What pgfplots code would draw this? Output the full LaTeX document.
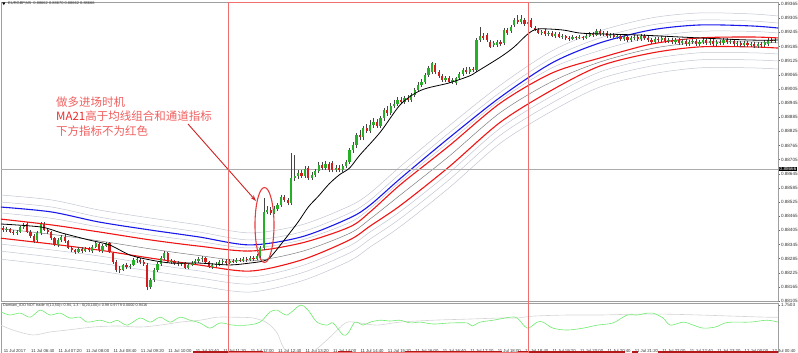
\documentclass[border=0pt]{standalone}
\usepackage{fontspec}
\setmainfont{Liberation Sans}
\newfontfamily\cjk{Noto Sans CJK SC}
\usepackage{pgfplots}
\pgfplotsset{compat=1.18}
\usepackage{pgfplotstable}
\usetikzlibrary{arrows.meta}

\definecolor{bull}{RGB}{40,175,40}
\definecolor{bear}{RGB}{210,30,30}
\definecolor{wick}{RGB}{70,70,70}
\definecolor{band}{RGB}{195,198,210}
\definecolor{midg}{RGB}{125,125,125}
\definecolor{bl}{RGB}{25,25,235}
\definecolor{rd}{RGB}{240,20,20}
\definecolor{note}{RGB}{240,95,95}
\definecolor{notedk}{RGB}{232,45,45}
\definecolor{frm}{RGB}{240,110,110}
\definecolor{ell}{RGB}{232,60,60}
\definecolor{arr}{RGB}{205,35,35}
\definecolor{indg}{RGB}{110,235,110}
\definecolor{indgray}{RGB}{212,212,212}
\definecolor{nt}{RGB}{180,25,25}

% wicks: t high low
\pgfplotstableread{
t h l
-1 0.88423 0.88402
0 0.88423 0.88398
1 0.88419 0.88398
2 0.88415 0.88394
3 0.88406 0.88385
4 0.88406 0.88385
5 0.88423 0.88394
6 0.88436 0.88410
7 0.88440 0.88394
8 0.88406 0.88372
9 0.88389 0.88351
10 0.88402 0.88355
11 0.88440 0.88385
12 0.88440 0.88402
13 0.88415 0.88389
14 0.88402 0.88364
15 0.88377 0.88338
16 0.88372 0.88334
17 0.88385 0.88355
18 0.88389 0.88351
19 0.88364 0.88326
20 0.88338 0.88313
21 0.88326 0.88304
22 0.88334 0.88309
23 0.88334 0.88309
24 0.88334 0.88313
25 0.88334 0.88313
26 0.88343 0.88309
27 0.88360 0.88330
28 0.88351 0.88313
29 0.88347 0.88309
30 0.88355 0.88334
31 0.88355 0.88309
32 0.88313 0.88262
33 0.88279 0.88228
34 0.88253 0.88224
35 0.88262 0.88232
36 0.88266 0.88241
37 0.88262 0.88241
38 0.88287 0.88253
39 0.88292 0.88266
40 0.88287 0.88262
41 0.88279 0.88253
42 0.88266 0.88152
43 0.88203 0.88156
44 0.88245 0.88186
45 0.88270 0.88228
46 0.88296 0.88253
47 0.88317 0.88279
48 0.88313 0.88266
49 0.88283 0.88262
50 0.88279 0.88258
51 0.88275 0.88253
52 0.88270 0.88253
53 0.88270 0.88241
54 0.88266 0.88241
55 0.88275 0.88253
56 0.88283 0.88262
57 0.88292 0.88266
58 0.88296 0.88270
59 0.88292 0.88266
60 0.88275 0.88245
61 0.88266 0.88241
62 0.88270 0.88249
63 0.88279 0.88253
64 0.88283 0.88262
65 0.88283 0.88258
66 0.88283 0.88262
67 0.88283 0.88266
68 0.88287 0.88266
69 0.88287 0.88270
70 0.88292 0.88270
71 0.88292 0.88270
72 0.88296 0.88275
73 0.88296 0.88275
74 0.88304 0.88279
75 0.88338 0.88287
76 0.88542 0.88321
77 0.88508 0.88474
78 0.88504 0.88470
79 0.88508 0.88474
80 0.88521 0.88487
81 0.88555 0.88504
82 0.88555 0.88525
83 0.88542 0.88512
84 0.88733 0.88512
85 0.88724 0.88614
86 0.88661 0.88623
87 0.88661 0.88627
88 0.88678 0.88627
89 0.88678 0.88618
90 0.88652 0.88618
91 0.88665 0.88631
92 0.88695 0.88648
93 0.88695 0.88661
94 0.88699 0.88661
95 0.88695 0.88652
96 0.88699 0.88652
97 0.88682 0.88652
98 0.88682 0.88652
99 0.88686 0.88652
100 0.88703 0.88669
101 0.88754 0.88686
102 0.88780 0.88733
103 0.88818 0.88754
104 0.88830 0.88788
105 0.88847 0.88788
106 0.88856 0.88818
107 0.88873 0.88818
108 0.88881 0.88839
109 0.88877 0.88839
110 0.88890 0.88839
111 0.88924 0.88869
112 0.88932 0.88890
113 0.88945 0.88894
114 0.88958 0.88924
115 0.88970 0.88932
116 0.88970 0.88941
117 0.88975 0.88941
118 0.88979 0.88949
119 0.88987 0.88949
120 0.89009 0.88970
121 0.89034 0.88992
122 0.89047 0.89013
123 0.89072 0.89026
124 0.89102 0.89055
125 0.89119 0.89068
126 0.89115 0.89068
127 0.89085 0.89051
128 0.89068 0.89034
129 0.89060 0.89034
130 0.89060 0.89030
131 0.89051 0.89026
132 0.89055 0.89021
133 0.89077 0.89043
134 0.89093 0.89060
135 0.89098 0.89068
136 0.89098 0.89068
137 0.89098 0.89077
138 0.89221 0.89077
139 0.89267 0.89204
140 0.89242 0.89212
141 0.89242 0.89204
142 0.89212 0.89178
143 0.89208 0.89183
144 0.89212 0.89183
145 0.89212 0.89187
146 0.89263 0.89191
147 0.89263 0.89233
148 0.89276 0.89242
149 0.89306 0.89267
150 0.89318 0.89280
151 0.89318 0.89280
152 0.89306 0.89272
153 0.89301 0.89272
154 0.89306 0.89263
155 0.89272 0.89250
156 0.89263 0.89238
157 0.89255 0.89233
158 0.89259 0.89229
159 0.89250 0.89229
160 0.89250 0.89225
161 0.89246 0.89221
162 0.89246 0.89221
163 0.89238 0.89216
164 0.89233 0.89212
165 0.89229 0.89208
166 0.89233 0.89212
167 0.89229 0.89212
168 0.89233 0.89216
169 0.89229 0.89212
170 0.89238 0.89216
171 0.89246 0.89225
172 0.89246 0.89225
173 0.89259 0.89229
174 0.89259 0.89229
175 0.89250 0.89229
176 0.89250 0.89221
177 0.89242 0.89221
178 0.89242 0.89216
179 0.89238 0.89216
180 0.89233 0.89208
181 0.89233 0.89208
182 0.89233 0.89204
183 0.89229 0.89204
184 0.89233 0.89212
185 0.89233 0.89208
186 0.89238 0.89208
187 0.89238 0.89212
188 0.89229 0.89204
189 0.89221 0.89195
190 0.89225 0.89195
191 0.89225 0.89204
192 0.89229 0.89204
193 0.89229 0.89200
194 0.89221 0.89200
195 0.89221 0.89195
196 0.89221 0.89195
197 0.89221 0.89191
198 0.89216 0.89191
199 0.89216 0.89187
200 0.89212 0.89187
201 0.89216 0.89195
202 0.89216 0.89187
203 0.89212 0.89187
204 0.89221 0.89195
205 0.89221 0.89191
206 0.89216 0.89191
207 0.89216 0.89187
208 0.89212 0.89187
209 0.89212 0.89191
210 0.89221 0.89191
211 0.89221 0.89195
212 0.89216 0.89195
213 0.89216 0.89187
214 0.89208 0.89187
215 0.89208 0.89183
216 0.89208 0.89183
217 0.89208 0.89183
218 0.89204 0.89183
219 0.89204 0.89178
220 0.89204 0.89178
221 0.89204 0.89183
222 0.89212 0.89183
223 0.89221 0.89187
224 0.89221 0.89200
225 0.89221 0.89200
}\wicks

% rising candles: t open close
\pgfplotstableread{
t o c
-1 0.88410 0.88415
1 0.88406 0.88410
4 0.88394 0.88398
5 0.88398 0.88419
6 0.88419 0.88428
10 0.88364 0.88394
11 0.88394 0.88432
16 0.88343 0.88364
17 0.88364 0.88377
22 0.88313 0.88326
24 0.88317 0.88326
26 0.88317 0.88334
27 0.88334 0.88351
29 0.88317 0.88338
30 0.88338 0.88351
35 0.88236 0.88258
37 0.88249 0.88253
38 0.88258 0.88279
39 0.88279 0.88283
43 0.88164 0.88194
44 0.88194 0.88236
45 0.88236 0.88262
46 0.88262 0.88287
47 0.88287 0.88309
49 0.88270 0.88275
52 0.88262 0.88266
54 0.88245 0.88258
55 0.88258 0.88266
56 0.88266 0.88275
57 0.88275 0.88283
58 0.88283 0.88287
61 0.88249 0.88258
62 0.88258 0.88262
63 0.88262 0.88270
64 0.88270 0.88275
66 0.88266 0.88275
68 0.88270 0.88279
70 0.88275 0.88283
72 0.88279 0.88287
74 0.88283 0.88296
75 0.88296 0.88330
76 0.88330 0.88483
77 0.88483 0.88491
79 0.88478 0.88495
80 0.88495 0.88512
81 0.88512 0.88546
84 0.88521 0.88627
85 0.88627 0.88635
86 0.88635 0.88648
88 0.88635 0.88665
90 0.88627 0.88640
91 0.88640 0.88657
92 0.88657 0.88682
94 0.88669 0.88686
97 0.88661 0.88669
99 0.88661 0.88678
100 0.88678 0.88695
101 0.88695 0.88746
102 0.88746 0.88767
103 0.88767 0.88809
105 0.88801 0.88839
107 0.88826 0.88852
108 0.88852 0.88864
110 0.88847 0.88881
111 0.88881 0.88915
113 0.88903 0.88932
114 0.88932 0.88941
115 0.88941 0.88958
117 0.88949 0.88966
119 0.88958 0.88979
120 0.88979 0.89000
121 0.89000 0.89021
122 0.89021 0.89034
123 0.89034 0.89064
124 0.89064 0.89093
125 0.89077 0.89115
129 0.89043 0.89051
131 0.89034 0.89043
132 0.89030 0.89051
133 0.89051 0.89068
134 0.89068 0.89085
136 0.89077 0.89089
138 0.89085 0.89212
139 0.89212 0.89229
143 0.89191 0.89200
144 0.89191 0.89204
146 0.89200 0.89255
148 0.89250 0.89267
149 0.89276 0.89297
151 0.89289 0.89301
153 0.89280 0.89289
157 0.89242 0.89246
159 0.89238 0.89242
161 0.89229 0.89238
163 0.89225 0.89229
166 0.89216 0.89225
168 0.89221 0.89225
170 0.89221 0.89229
171 0.89229 0.89238
173 0.89233 0.89250
175 0.89238 0.89242
177 0.89229 0.89233
179 0.89225 0.89229
181 0.89216 0.89225
183 0.89212 0.89221
184 0.89221 0.89225
186 0.89216 0.89229
190 0.89204 0.89216
192 0.89212 0.89221
194 0.89208 0.89212
196 0.89204 0.89212
198 0.89200 0.89208
200 0.89195 0.89204
201 0.89204 0.89208
203 0.89195 0.89204
204 0.89204 0.89212
206 0.89200 0.89208
208 0.89195 0.89204
210 0.89200 0.89212
212 0.89204 0.89208
214 0.89195 0.89200
216 0.89191 0.89200
218 0.89191 0.89195
220 0.89187 0.89195
222 0.89191 0.89204
223 0.89195 0.89212
225 0.89208 0.89212
}\bulls

% falling candles: t open close
\pgfplotstableread{
t o c
0 0.88415 0.88406
2 0.88410 0.88398
3 0.88398 0.88394
7 0.88432 0.88398
8 0.88398 0.88381
9 0.88381 0.88355
12 0.88432 0.88406
13 0.88406 0.88398
14 0.88398 0.88372
15 0.88372 0.88343
18 0.88377 0.88360
19 0.88360 0.88330
20 0.88330 0.88321
21 0.88321 0.88313
23 0.88326 0.88317
25 0.88326 0.88321
28 0.88347 0.88321
31 0.88351 0.88313
32 0.88309 0.88270
33 0.88270 0.88236
34 0.88241 0.88236
36 0.88258 0.88249
40 0.88279 0.88270
41 0.88270 0.88262
42 0.88258 0.88164
48 0.88309 0.88270
50 0.88275 0.88266
51 0.88266 0.88262
53 0.88266 0.88245
59 0.88287 0.88270
60 0.88270 0.88249
65 0.88275 0.88266
67 0.88275 0.88270
69 0.88279 0.88275
71 0.88283 0.88279
73 0.88287 0.88283
78 0.88491 0.88478
82 0.88546 0.88534
83 0.88534 0.88521
87 0.88648 0.88635
89 0.88669 0.88627
93 0.88682 0.88669
95 0.88686 0.88661
96 0.88690 0.88661
98 0.88669 0.88661
104 0.88809 0.88801
106 0.88839 0.88826
109 0.88864 0.88847
112 0.88915 0.88903
116 0.88958 0.88949
118 0.88966 0.88958
126 0.89106 0.89077
127 0.89077 0.89060
128 0.89060 0.89043
130 0.89051 0.89034
135 0.89085 0.89077
137 0.89089 0.89085
140 0.89229 0.89221
141 0.89233 0.89212
142 0.89204 0.89183
145 0.89204 0.89195
147 0.89255 0.89242
150 0.89297 0.89289
152 0.89297 0.89280
154 0.89297 0.89267
155 0.89263 0.89255
156 0.89255 0.89242
158 0.89250 0.89238
160 0.89242 0.89229
162 0.89238 0.89225
164 0.89229 0.89221
165 0.89221 0.89216
167 0.89225 0.89221
169 0.89225 0.89221
172 0.89238 0.89233
174 0.89250 0.89238
176 0.89242 0.89229
178 0.89233 0.89225
180 0.89229 0.89216
182 0.89225 0.89212
185 0.89225 0.89216
187 0.89229 0.89221
188 0.89221 0.89212
189 0.89212 0.89204
191 0.89216 0.89212
193 0.89221 0.89208
195 0.89212 0.89204
197 0.89212 0.89200
199 0.89208 0.89195
202 0.89208 0.89195
205 0.89212 0.89200
207 0.89208 0.89195
209 0.89204 0.89200
211 0.89212 0.89204
213 0.89208 0.89195
215 0.89200 0.89191
217 0.89200 0.89191
219 0.89195 0.89187
221 0.89195 0.89191
224 0.89212 0.89208
}\bears

% moving averages and channel
\pgfplotstableread{
t blue u1 u2 m r1 c r2 l1 l2 l3
-1 0.88504 0.88525 0.88555 0.88479 0.88453 0.88413 0.88372 0.88347 0.88317 0.88283
14 0.88483 0.88504 0.88534 0.88456 0.88428 0.88388 0.88347 0.88322 0.88292 0.88258
28 0.88440 0.88461 0.88491 0.88419 0.88398 0.88360 0.88321 0.88296 0.88266 0.88232
43 0.88406 0.88427 0.88457 0.88385 0.88364 0.88326 0.88287 0.88262 0.88232 0.88198
57 0.88377 0.88398 0.88428 0.88358 0.88338 0.88298 0.88258 0.88233 0.88203 0.88169
72 0.88343 0.88364 0.88394 0.88330 0.88317 0.88275 0.88232 0.88207 0.88177 0.88143
87 0.88377 0.88398 0.88428 0.88364 0.88351 0.88315 0.88279 0.88254 0.88224 0.88190
101 0.88457 0.88478 0.88508 0.88438 0.88419 0.88392 0.88364 0.88339 0.88309 0.88275
107 0.88512 0.88533 0.88563 0.88498 0.88483 0.88453 0.88423 0.88398 0.88368 0.88334
116 0.88627 0.88648 0.88678 0.88614 0.88601 0.88557 0.88512 0.88487 0.88457 0.88423
130 0.88797 0.88818 0.88848 0.88780 0.88763 0.88719 0.88674 0.88649 0.88619 0.88585
145 0.88970 0.88991 0.89021 0.88958 0.88945 0.88905 0.88864 0.88839 0.88809 0.88775
160 0.89115 0.89136 0.89166 0.89094 0.89072 0.89036 0.89000 0.88975 0.88945 0.88911
174 0.89200 0.89221 0.89251 0.89168 0.89136 0.89119 0.89102 0.89077 0.89047 0.89013
189 0.89255 0.89276 0.89306 0.89225 0.89195 0.89176 0.89157 0.89132 0.89102 0.89068
203 0.89276 0.89297 0.89327 0.89249 0.89221 0.89202 0.89183 0.89158 0.89128 0.89094
218 0.89272 0.89293 0.89323 0.89249 0.89225 0.89204 0.89183 0.89158 0.89128 0.89094
226 0.89263 0.89284 0.89314 0.89242 0.89221 0.89200 0.89178 0.89153 0.89123 0.89089
}\lines

\pgfplotstableread{
t v
-1 0.88432
11 0.88419
17 0.88394
25 0.88364
31 0.88343
37 0.88300
43 0.88279
49 0.88266
57 0.88266
66 0.88258
72 0.88266
76 0.88275
78 0.88292
82 0.88364
86 0.88440
89 0.88504
92 0.88551
95 0.88601
98 0.88640
101 0.88669
104 0.88724
110 0.88822
116 0.88941
122 0.89000
130 0.89030
136 0.89060
138 0.89077
145 0.89140
149 0.89183
153 0.89238
156 0.89259
163 0.89255
168 0.89242
174 0.89238
186 0.89233
203 0.89221
218 0.89212
226 0.89212
}\maline

\pgfplotstableread{
t v
-0.6 1.50
2 1.39
5 1.46
7.9 1.31
10.8 1.57
13.7 1.39
16.6 1.46
19.5 1.28
22.4 1.31
24.5 1.13
28.3 1.20
31.2 1.10
33.2 1.20
36.2 1.02
39.9 1.28
42.9 1.13
45.8 1.31
48.7 1.13
51.6 1.31
54.5 1.20
57.4 1.10
60.3 0.91
63.3 1.10
67 1.02
71.1 1.02
74.9 1.13
77.8 1.50
79.9 1.57
82.8 1.39
86.6 1.75
88.9 1.57
91.5 1.13
94.5 1.02
96.2 1.10
99.1 0.66
100.6 0.73
102.6 1.13
105 1.02
107 1.13
109.9 1.20
112.8 1.17
115.7 1.20
118.7 1.10
121.6 1.13
125.4 1.06
130.3 1.10
135.3 1.10
136.7 0.99
139.1 1.13
142.9 1.20
147.8 1.31
149.9 1.28
152.8 0.91
155.7 1.13
157.4 1.13
160.3 0.91
164.4 0.84
169.1 0.91
173.2 1.02
177.8 1.10
181.9 1.39
184.8 1.39
187.8 1.46
189.5 1.46
192.4 1.28
194.5 1.02
198.3 1.13
201.2 1.02
204.1 0.91
207.6 0.95
210.5 1.10
212.8 1.13
217.8 1.13
222.7 1.20
225.9 1.13
}\idogreen

\pgfplotstableread{
t v
-0.6 1.02
2.9 0.84
8.7 0.66
13.7 0.77
18.7 0.84
26.2 0.95
33.2 0.99
39.9 0.95
45.8 1.02
51.6 1.13
57.4 1.20
62.4 1.31
67 1.31
72.9 1.28
77 1.10
79.9 0.73
82 0.15
86.5 -0.3
91 0.1
95.3 0.58
97.4 0.84
100.3 1.13
104.1 1.10
109 1.02
115.7 1.13
125.4 1.20
135.3 1.24
144.9 1.28
149.9 1.28
154.5 1.35
164.4 1.39
174 1.39
183.7 1.42
193.6 1.42
203.2 1.39
212.8 1.35
222.7 1.31
225.9 1.31
}\idogray

\begin{document}
\begin{tikzpicture}[x=1pt,y=1pt]
\useasboundingbox (0,0) rectangle (798,353);

% ---------- main price window ----------
\begin{axis}[
  at={(1pt,52pt)}, anchor=south west, scale only axis,
  width=777pt, height=299pt,
  xmin=-0.6, xmax=225.9, ymin=0.88105, ymax=0.893735,
  axis line style={draw=gray!75, line width=0.5pt},
  xtick=\empty,
  ytick={0.88105,0.88165,0.88225,0.88285,0.88345,0.88405,0.88465,0.88525,0.88585,0.88645,0.88705,0.88765,0.88825,0.88885,0.88945,0.89005,0.89065,0.89125,0.89185,0.89245,0.89305,0.89365},
  yticklabels={0.88105,0.88165,0.88225,0.88285,0.88345,0.88405,0.88465,0.88525,0.88585,0.88645,0.88705,0.88765,0.88825,0.88885,0.88945,0.89005,0.89065,0.89125,0.89185,0.89245,0.89305,0.89365},
  ytick pos=right, yticklabel pos=right,
  tick align=outside, major tick length=2pt,
  tick style={draw=gray!80!black, line width=0.4pt},
  yticklabel style={font=\fontsize{4.6}{5}\selectfont, text=black!80, anchor=west, inner sep=0pt, xshift=0.8pt},
  scaled y ticks=false,
  /pgf/number format/assume math mode=true,
  clip=true,
]
% channel bands
\addplot[band, line width=0.5pt, smooth, tension=0.5] table[x=t, y=u2] {\lines};
\addplot[band, line width=0.5pt, smooth, tension=0.5] table[x=t, y=u1] {\lines};
\addplot[band, line width=0.5pt, smooth, tension=0.5] table[x=t, y=m] {\lines};
\addplot[band, line width=0.5pt, smooth, tension=0.5] table[x=t, y=l1] {\lines};
\addplot[band, line width=0.5pt, smooth, tension=0.5] table[x=t, y=l2] {\lines};
\addplot[band, line width=0.5pt, smooth, tension=0.5] table[x=t, y=l3] {\lines};
\addplot[midg, line width=0.5pt, smooth, tension=0.5] table[x=t, y=c] {\lines};
\addplot[rd, line width=1.1pt, smooth, tension=0.5] table[x=t, y=r1] {\lines};
\addplot[rd, line width=1.1pt, smooth, tension=0.5] table[x=t, y=r2] {\lines};
\addplot[bl, line width=1.1pt, smooth, tension=0.5] table[x=t, y=blue] {\lines};
% current price line
\addplot[gray!65, line width=0.4pt] coordinates {(-0.6,0.88666) (225.9,0.88666)};
% candles (error bars from low to high, and from open to close)
\addplot[draw=none, mark=none, error bars/.cd, y dir=plus, y explicit, error mark=none,
  error bar style={draw=wick, line width=0.45pt}]
  table[x=t, y=l, y error plus expr=\thisrow{h}-\thisrow{l}] {\wicks};
\addplot[draw=none, mark=none, error bars/.cd, y dir=plus, y explicit, error mark=none,
  error bar style={draw=bull, line width=2.2pt}]
  table[x=t, y=o, y error plus expr=\thisrow{c}-\thisrow{o}] {\bulls};
\addplot[draw=none, mark=none, error bars/.cd, y dir=plus, y explicit, error mark=none,
  error bar style={draw=bear, line width=2.2pt}]
  table[x=t, y=c, y error plus expr=\thisrow{o}-\thisrow{c}] {\bears};
% MA21
\addplot[black, line width=0.8pt, smooth, tension=0.5] table[x=t, y=v] {\maline};
\end{axis}

% ---------- indicator window ----------
\begin{axis}[
  at={(1pt,0pt)}, anchor=south west, scale only axis,
  width=777pt, height=50pt,
  xmin=-0.6, xmax=225.9, ymin=0, ymax=1.83,
  axis line style={draw=gray!75, line width=0.5pt},
  ytick={1.7503}, yticklabels={1.7503},
  ytick pos=right, yticklabel pos=right,
  tick align=outside, major tick length=2pt,
  ytick style={draw=gray!80!black, line width=0.4pt},
  yticklabel style={font=\fontsize{4.6}{5}\selectfont, text=black!80, anchor=west, inner sep=0pt, xshift=0.8pt},
  xtick={0,8,...,224},
  xticklabels={11 Jul 2017,11 Jul 06:40,11 Jul 07:20,11 Jul 08:00,11 Jul 08:40,11 Jul 09:20,11 Jul 10:00,11 Jul 10:40,11 Jul 11:20,11 Jul 12:00,11 Jul 12:40,11 Jul 13:20,11 Jul 14:00,11 Jul 14:40,11 Jul 15:20,11 Jul 16:00,11 Jul 16:40,11 Jul 17:20,11 Jul 18:00,11 Jul 18:40,11 Jul 19:20,11 Jul 20:00,11 Jul 20:40,11 Jul 21:20,11 Jul 22:00,11 Jul 22:40,11 Jul 23:20,12 Jul 00:00,12 Jul 00:40},
  xtick pos=bottom, xtick style={draw=none},
  xticklabel style={font=\fontsize{4.3}{5}\selectfont, text=black!80, anchor=south west, inner sep=0pt, xshift=0.5pt, yshift=2.6pt},
  /pgf/number format/assume math mode=true,
  clip=true,
]
\addplot[indgray, line width=0.6pt, smooth, tension=0.5] table[x=t, y=v] {\idogray};
\addplot[indg, line width=0.6pt, smooth, tension=0.5] table[x=t, y=v] {\idogreen};
\addplot[nt, line width=2.2pt] coordinates {(55.4,0.035) (75.8,0.035)};
\addplot[nt, line width=2.2pt] coordinates {(97.7,0.035) (101.7,0.035)};
\addplot[nt, line width=2.2pt] coordinates {(117.2,0.035) (145.5,0.035)};
\addplot[nt, line width=2.2pt] coordinates {(150.1,0.035) (181.3,0.035)};
\addplot[nt, line width=2.2pt] coordinates {(183.4,0.035) (185.1,0.035)};
\addplot[nt, line width=2.2pt] coordinates {(191,0.035) (226,0.035)};
\end{axis}

% ---------- texts and annotations ----------
\fill[black] (2.2,350.6) -- (5.4,350.6) -- (3.8,347.8) -- cycle;
\node[anchor=west, inner sep=0pt, font=\fontsize{4}{5}\selectfont, text=black!80] at (8,349.2)
  {EURGBP,M5\ \ 0.88662 0.88670 0.88662 0.88666};
\node[anchor=west, inner sep=0pt, font=\fontsize{3.8}{4.5}\selectfont, text=black!80] at (3,47)
  {Damiani\_IDO NOT trade V(13,50)= 0.94, 1.3 - S(20,100)= 0.98 0.9779 0.0000 0.9416};
\node[anchor=west, fill=black, text=white, inner sep=0.5pt, font=\fontsize{4.6}{5}\selectfont] at (779,184.3) {0.88666};

\node[anchor=west, inner sep=0pt, text=note, font=\cjk\fontsize{11.5}{13}\selectfont] at (56,250.5) {做多进场时机};
\node[anchor=west, inner sep=0pt, text=note, font=\cjk\fontsize{11.5}{13}\selectfont] at (56,236.8) {\textcolor{notedk}{MA21}高于均线组合和通道指标};
\node[anchor=west, inner sep=0pt, text=note, font=\cjk\fontsize{11.5}{13}\selectfont] at (56,222.2) {下方指标不为红色};

\draw[arr, line width=0.9pt, -{Stealth[length=6pt,width=4pt]}] (188,229) -- (256,152);
\draw[ell, line width=1.1pt] (264.5,128) ellipse (9.5 and 37.5);
\draw[frm, line width=1.3pt] (228.5,0.7) rectangle (528.5,350.2);
\end{tikzpicture}
\end{document}
